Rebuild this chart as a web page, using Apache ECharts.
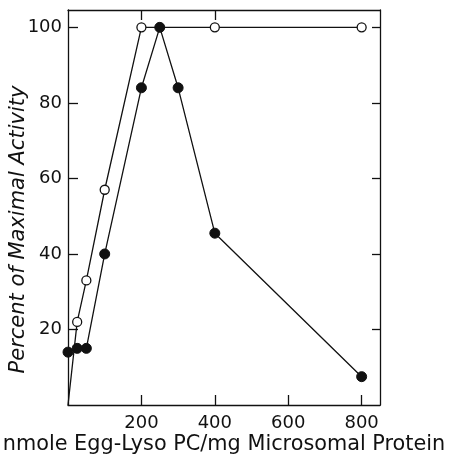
<!DOCTYPE html>
<html><head><meta charset="utf-8">
<script src="https://cdn.jsdelivr.net/npm/echarts@6/dist/echarts.min.js"></script>
<style>html,body{margin:0;padding:0;background:#fff}#c{width:451px;height:459px}</style>
</head><body><div id="c"></div>
<script>
const openX = [0, 25, 50, 100, 200, 400, 800];
const openY = [0, 22, 33, 57, 100, 100, 100];
const filledX = [0, 25, 50, 100, 200, 250, 300, 400, 800];
const filledY = [14, 15, 15, 40, 84, 100, 84, 45.5, 7.5];
const xTicks = [200, 400, 600, 800];
const yTicks = [20, 40, 60, 80, 100];
const topTicks = [200, 400];
const xName = 'nmole Egg-Lyso PC/mg Microsomal Protein';
const yName = 'Percent of Maximal Activity';

const font = 'DejaVu Sans';
const openData = openX.map((x, i) => i === 0 ? {value: [x, openY[i]], symbol: 'none'} : [x, openY[i]]);
const filledData = filledX.map((x, i) => [x, filledY[i]]);

const chart = echarts.init(document.getElementById('c'), null, {renderer: 'canvas'});
const lineStyle = {color: '#111', width: 1.3};
chart.setOption({
  animation: false,
  backgroundColor: '#fff',
  grid: {left: 68, right: 71, top: 10, bottom: 54, outerBoundsMode: 'none', containLabel: false},
  xAxis: [{
    type: 'value', min: 0, max: 850, position: 'bottom',
    name: xName, nameLocation: 'middle', nameGap: 29, nameMoveOverlap: false,
    nameTextStyle: {fontFamily: font, fontSize: 20.8, color: '#111'},
    axisLine: {show: true, onZero: false, lineStyle},
    axisTick: {show: true, inside: true, length: 10, customValues: xTicks, lineStyle},
    axisLabel: {customValues: xTicks, fontFamily: font, fontSize: 18, color: '#111', margin: 9},
    splitLine: {show: false}
  }, {
    type: 'value', min: 0, max: 850, position: 'top',
    axisLine: {show: true, onZero: false, lineStyle},
    axisTick: {show: true, inside: true, length: 10, customValues: topTicks, lineStyle},
    axisLabel: {show: false},
    splitLine: {show: false}
  }],
  yAxis: [{
    type: 'value', min: 0, max: 104.6, position: 'left',
    name: yName, nameLocation: 'middle', nameGap: 39, nameMoveOverlap: false,
    nameTextStyle: {fontFamily: font, fontSize: 21, fontStyle: 'italic', color: '#111', padding: [0, 44, 0, 0]},
    axisLine: {show: true, onZero: false, lineStyle},
    axisTick: {show: true, inside: true, length: 10, customValues: yTicks, lineStyle},
    axisLabel: {customValues: yTicks, fontFamily: font, fontSize: 18, color: '#111', margin: 6},
    splitLine: {show: false}
  }, {
    type: 'value', min: 0, max: 104.6, position: 'right',
    axisLine: {show: true, onZero: false, lineStyle},
    axisTick: {show: true, inside: true, length: 8, customValues: yTicks, lineStyle},
    axisLabel: {show: false},
    splitLine: {show: false}
  }],
  series: [{
    type: 'line', data: openData, symbol: 'circle', symbolSize: 9,
    lineStyle: {color: '#111', width: 1.3},
    itemStyle: {color: '#fff', borderColor: '#111', borderWidth: 1.3},
    z: 3
  }, {
    type: 'line', data: filledData, symbol: 'circle', symbolSize: 10,
    lineStyle: {color: '#111', width: 1.3},
    itemStyle: {color: '#111', borderColor: '#111', borderWidth: 1},
    z: 4
  }]
});
</script></body></html>
